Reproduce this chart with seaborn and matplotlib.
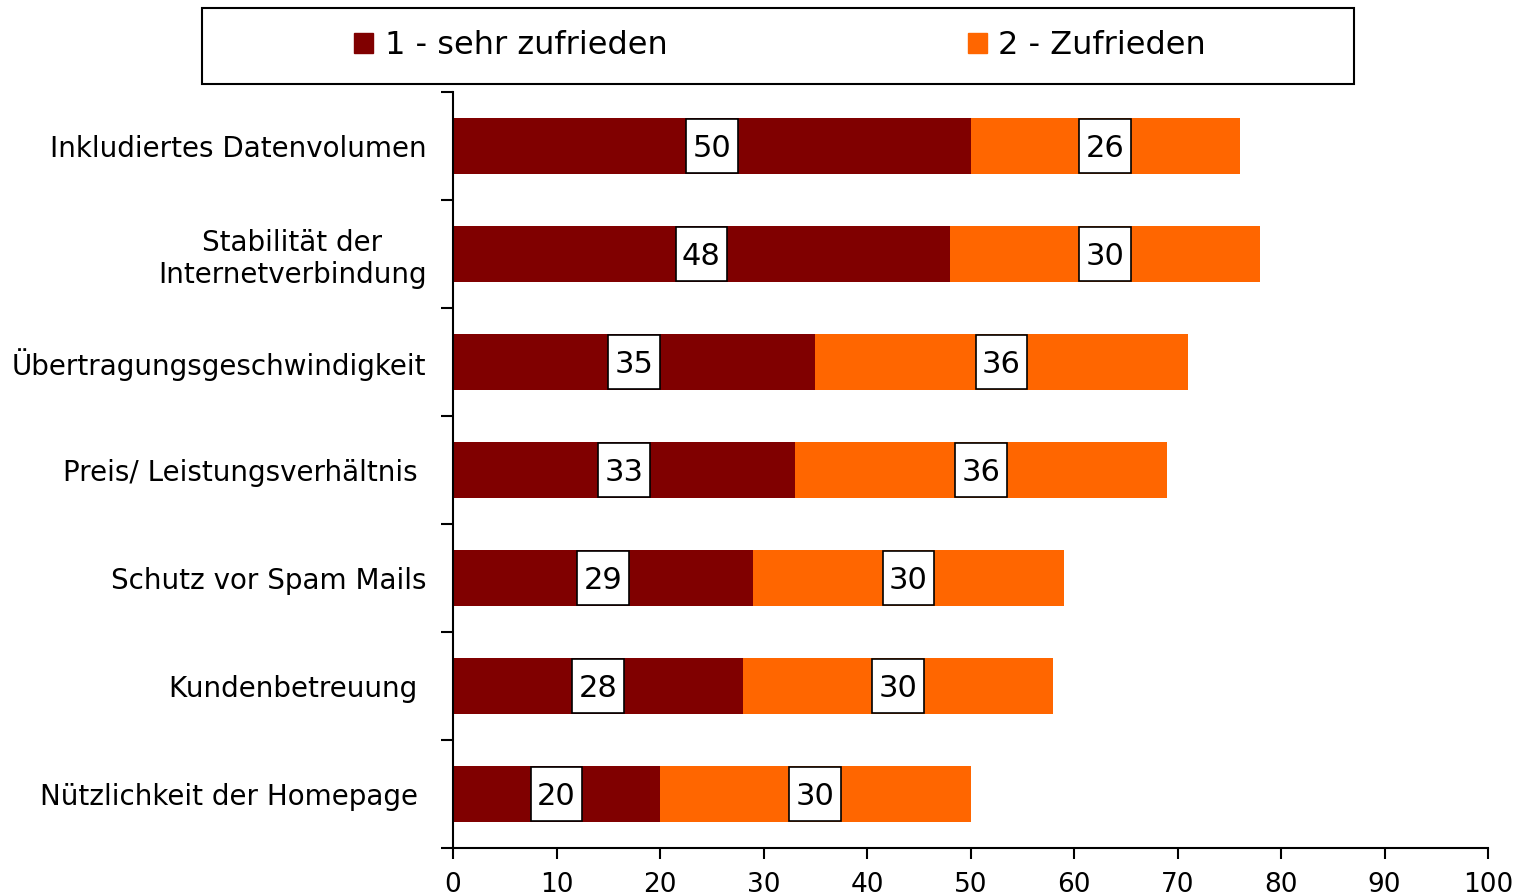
import matplotlib
matplotlib.use("Agg")
import matplotlib.pyplot as plt
import seaborn as sns
import pandas as pd
from matplotlib.patches import Rectangle, Patch

# === Daten ===
kategorien = [
    "Inkludiertes Datenvolumen",
    "Stabilität der\nInternetverbindung",
    "Übertragungsgeschwindigkeit",
    "Preis/ Leistungsverhältnis ",
    "Schutz vor Spam Mails",
    "Kundenbetreuung ",
    "Nützlichkeit der Homepage ",
]
sehr_zufrieden = [50, 48, 35, 33, 29, 28, 20]
zufrieden = [26, 30, 36, 36, 30, 30, 30]
serien = ["1 - sehr zufrieden", "2 - Zufrieden"]
farben = ["#800000", "#FF6600"]
x_ticks = [0, 10, 20, 30, 40, 50, 60, 70, 80, 90, 100]

df = pd.DataFrame({
    "kategorie": kategorien,
    "s1": sehr_zufrieden,
    "s2": zufrieden,
})
df["gesamt"] = df["s1"] + df["s2"]

sns.set_style("white")
plt.rcParams["font.family"] = ["DejaVu Sans"]
plt.rcParams["text.color"] = "black"
plt.rcParams["xtick.color"] = "black"
plt.rcParams["ytick.color"] = "black"

fig = plt.figure(figsize=(15.15, 8.96), dpi=100)
ax = fig.add_axes([453 / 1515, 1 - 848 / 896, (1488 - 453) / 1515, (848 - 92) / 896])

# gestapelt: erst Summe, dann erste Serie darüber
sns.barplot(data=df, y="kategorie", x="gesamt", color=farben[1], width=0.52,
            saturation=1, orient="h", ax=ax, edgecolor="none")
sns.barplot(data=df, y="kategorie", x="s1", color=farben[0], width=0.52,
            saturation=1, orient="h", ax=ax, edgecolor="none")

# Werte-Labels in der Mitte der Segmente (weisse Kaestchen)
box_w, box_h = 5.0, 0.5
for i, row in df.iterrows():
    for xc, val in [(row["s1"] / 2, row["s1"]), (row["s1"] + row["s2"] / 2, row["s2"])]:
        ax.add_patch(Rectangle((xc - box_w / 2, i - box_h / 2), box_w, box_h,
                               fc="white", ec="black", lw=1.2, zorder=3))
        ax.text(xc, i + 0.02, f"{val:.0f}", ha="center", va="center",
                fontsize=22, color="black", zorder=4)

ax.set_xlim(0, 100)
ax.set_ylim(len(kategorien) - 0.5, -0.5)
ax.set_xticks(x_ticks)
ax.set_xlabel("")
ax.set_ylabel("")
ax.tick_params(axis="x", labelsize=19, length=8, width=1.5, direction="out",
               pad=9, bottom=True)
ax.tick_params(axis="y", which="major", labelsize=20, length=0, pad=19)
ax.set_yticks([i - 0.5 for i in range(len(kategorien) + 1)], minor=True)
ax.tick_params(axis="y", which="minor", length=9, width=1.5, left=True)
for lbl in ax.get_yticklabels():
    lbl.set_horizontalalignment("right")
    lbl.set_multialignment("center")

sns.despine(ax=ax, top=True, right=True)
for s in ["left", "bottom"]:
    ax.spines[s].set_linewidth(1.5)
    ax.spines[s].set_color("black")

# Legende mit eigenem Rahmen
fig.patches.append(Rectangle((202 / 1515, 1 - 84 / 896), (1354 - 202) / 1515,
                             (84 - 8) / 896, transform=fig.transFigure,
                             fill=False, ec="black", lw=1.5))
handles = [Patch(color=c, label=l) for c, l in zip(farben, serien)]
fig.legend(handles=handles, loc="center", bbox_to_anchor=(780 / 1515, 1 - 46 / 896),
           ncol=2, frameon=False, fontsize=23, handlelength=0.6,
           handleheight=0.6, handletextpad=0.35, columnspacing=9.4)

fig.savefig("out.png", dpi=100)
